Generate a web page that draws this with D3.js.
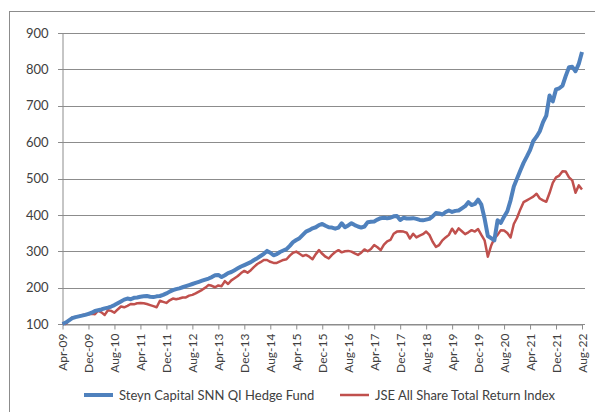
<!DOCTYPE html>
<html>
<head>
<meta charset="utf-8">
<script src="https://cdn.jsdelivr.net/npm/d3@7"></script>
<style>
  body { margin: 0; background: #fff; }
  text { font-family: Lato, "Open Sans", sans-serif; fill: #404040; }
</style>
</head>
<body>
<div id="chart"></div>
<script>
var width = 595, height = 412;
var margin = {top: 33, right: 13, bottom: 88, left: 62};

// monthly points, Apr-09 .. Aug-22
var startMonth = new Date(2009, 3, 1);
var monthCount = 161;
var tickEvery = 8;

var seriesNames = ["Steyn Capital SNN QI Hedge Fund", "JSE All Share Total Return Index"];
var seriesColors = ["#4f81bd", "#c0504d"];

var steyn = [
  100,104,110,116,119,121,123,125,128,131,136,138,140,143,145,148,152,157,162,167,
  170,168,172,173,175,176,177,175,174,176,177,180,184,189,193,196,198,201,204,207,
  210,213,216,219,222,225,229,234,235,229,234,240,243,248,253,258,262,266,270,276,
  281,287,293,301,296,289,292,298,302,306,315,325,331,336,345,354,358,363,366,372,
  375,370,366,365,362,365,377,366,371,377,372,368,365,368,380,381,382,387,391,392,
  391,392,396,397,386,392,390,390,391,389,386,385,387,389,396,405,404,401,408,412,
  408,411,412,418,424,435,427,430,442,428,390,342,336,330,385,378,395,410,440,478,
  500,522,543,560,578,603,615,630,655,673,728,712,745,748,755,782,806,807,795,815,
  848
];

var jse = [
  103,100,110,118,119,121,124,126,127,128,127,137,132,125,138,136,131,140,148,146,
  150,155,154,157,158,157,155,152,149,146,164,161,158,165,170,168,170,173,173,178,
  180,184,189,194,200,207,205,201,206,204,218,210,220,226,232,240,246,241,248,257,
  265,270,276,276,271,268,268,272,276,278,288,296,299,293,287,290,285,278,292,303,
  293,285,280,290,298,303,297,300,301,299,294,290,296,305,300,306,317,311,303,318,
  327,331,348,354,355,354,351,335,348,338,343,347,354,345,326,312,317,330,338,345,
  362,349,363,355,347,352,358,354,361,345,330,285,315,335,345,358,357,350,338,375,
  392,415,435,440,445,450,458,445,440,436,460,488,503,508,520,519,503,495,461,481,
  470
];

var yTicks = [100, 200, 300, 400, 500, 600, 700, 800, 900];

var months = d3.range(monthCount).map(function(i) { return d3.timeMonth.offset(startMonth, i); });
var fmt = d3.timeFormat("%b-%y");

var svg = d3.select("#chart").append("svg")
    .attr("width", width)
    .attr("height", height);

// chart frame
svg.append("rect")
    .attr("x", 9.5).attr("y", 11.5)
    .attr("width", 600).attr("height", 410)
    .attr("fill", "none")
    .attr("stroke", "#8c8c8c");

var x = d3.scaleLinear().domain([0, monthCount - 1]).range([margin.left + 0.5, width - margin.right]);
var y = d3.scaleLinear().domain([100, 900]).range([height - margin.bottom, margin.top]);

// gridlines
svg.append("g")
    .selectAll("line")
    .data(yTicks)
    .join("line")
    .attr("x1", margin.left - 4)
    .attr("x2", width - margin.right + 3)
    .attr("y1", function(d) { return Math.round(y(d)) + 0.5; })
    .attr("y2", function(d) { return Math.round(y(d)) + 0.5; })
    .attr("stroke", "#8c8c8c")
    .attr("stroke-width", 1);

// y axis
var yAxis = svg.append("g")
    .attr("transform", "translate(" + (margin.left + 0.5) + ",0)")
    .call(d3.axisLeft(y).tickValues(yTicks).tickSize(0).tickPadding(14));
yAxis.select(".domain").attr("stroke", "#8c8c8c");
yAxis.selectAll("text").attr("font-size", 13).attr("fill", "#404040")
    .style("font-family", "Lato, sans-serif");

// x axis
var xAxis = svg.append("g")
    .attr("transform", "translate(0," + (Math.round(y(100)) + 0.5) + ")")
    .call(d3.axisBottom(x)
        .tickValues(d3.range(0, monthCount, tickEvery))
        .tickSize(5)
        .tickSizeOuter(0)
        .tickFormat(function(i) { return fmt(months[i]); }));
xAxis.select(".domain").attr("stroke", "#8c8c8c");
xAxis.selectAll(".tick line").attr("stroke", "#8c8c8c");
xAxis.selectAll("text")
    .attr("font-size", 12)
    .attr("fill", "#404040")
    .style("font-family", "Lato, sans-serif")
    .attr("text-anchor", "end")
    .attr("transform", "rotate(-90)")
    .attr("x", -9)
    .attr("y", 0)
    .attr("dy", "0.35em");

// lines
var line = d3.line()
    .x(function(d, i) { return x(i); })
    .y(function(d) { return y(d); });

svg.append("path")
    .datum(jse)
    .attr("fill", "none")
    .attr("stroke", seriesColors[1])
    .attr("stroke-width", 2.5)
    .attr("stroke-linejoin", "round")
    .attr("d", line);

svg.append("path")
    .datum(steyn)
    .attr("fill", "none")
    .attr("stroke", seriesColors[0])
    .attr("stroke-width", 4)
    .attr("stroke-linejoin", "round")
    .attr("d", line);

// legend
var legendX = [84, 340];
var legend = svg.append("g").selectAll("g")
    .data(seriesNames)
    .join("g")
    .attr("transform", function(d, i) { return "translate(" + legendX[i] + ",395)"; });
legend.append("line")
    .attr("x1", 0).attr("x2", 29)
    .attr("stroke", function(d, i) { return seriesColors[i]; })
    .attr("stroke-width", function(d, i) { return i === 0 ? 4 : 2.5; });
legend.append("text")
    .attr("x", 35)
    .attr("dy", "0.35em")
    .attr("font-size", 13)
    .text(function(d) { return d; });
</script>
</body>
</html>
